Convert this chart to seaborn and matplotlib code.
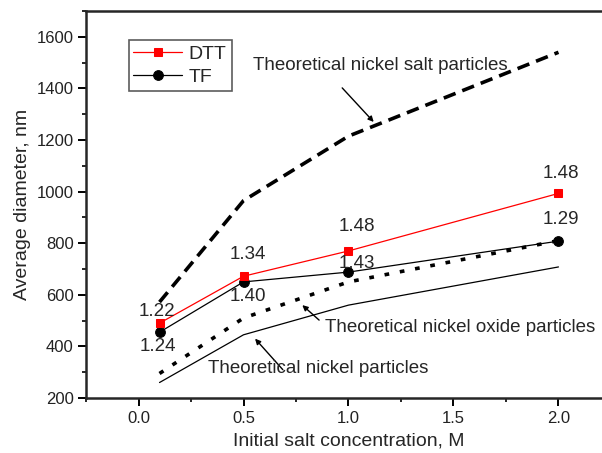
import numpy as np
import pandas as pd
import seaborn as sns
import matplotlib.pyplot as plt
from matplotlib.ticker import MultipleLocator

# data
conc = [0.1, 0.5, 1.0, 2.0]
dtt = [490, 672, 770, 993]
tf = [455, 650, 688, 808]
salt_theory = [572, 965, 1215, 1540]
oxide_theory = [295, 510, 650, 810]
nickel_theory = [260, 445, 560, 708]
dtt_labels = ['1.22', '1.34', '1.48', '1.48']
tf_labels = ['1.24', '1.40', '1.43', '1.29']

sns.set_style("ticks")
plt.rcParams['font.family'] = ['Liberation Sans', 'DejaVu Sans']

fig = plt.figure(figsize=(6.02, 4.53), dpi=100)
ax = fig.add_axes([0.1429, 0.1214, 0.872, 0.8543])

df = pd.DataFrame({'conc': conc, 'DTT': dtt, 'TF': tf, 'salt': salt_theory,
                   'oxide': oxide_theory, 'nickel': nickel_theory})

sns.lineplot(data=df, x='conc', y='salt', ax=ax, color='black', lw=2.6)
ax.lines[-1].set_dashes([3.5, 2])
sns.lineplot(data=df, x='conc', y='oxide', ax=ax, color='black', lw=2.6)
ax.lines[-1].set_dashes([1.3, 3])
sns.lineplot(data=df, x='conc', y='nickel', ax=ax, color='black', lw=0.9)
sns.lineplot(data=df, x='conc', y='TF', ax=ax, color='black', lw=0.9,
             marker='o', markersize=7, markeredgecolor='black', label='TF')
sns.lineplot(data=df, x='conc', y='DTT', ax=ax, color='red', lw=0.9,
             marker='s', markersize=6.2, markeredgecolor='red', label='DTT')

fs = 13.5
dtt_dx = [-0.01, 0.02, 0.04, 0.01]
dtt_dy = [47, 86, 93, 79]
tf_dx = [-0.01, 0.02, 0.04, 0.01]
tf_dy = [-57, -55, 35, 82]
for x, y, lab, dx, dy in zip(conc, dtt, dtt_labels, dtt_dx, dtt_dy):
    ax.text(x + dx, y + dy, lab, ha='center', va='center', fontsize=fs)
for x, y, lab, dx, dy in zip(conc, tf, tf_labels, tf_dx, tf_dy):
    ax.text(x + dx, y + dy, lab, ha='center', va='center', fontsize=fs)

arrow = dict(arrowstyle='-|>', color='black', lw=1, mutation_scale=8, shrinkA=0, shrinkB=0)
ax.annotate('', xy=(1.12, 1270), xytext=(0.97, 1402), arrowprops=arrow)
ax.text(0.545, 1487, 'Theoretical nickel salt particles', fontsize=fs, va='center')
ax.annotate('', xy=(0.78, 560), xytext=(0.86, 502), arrowprops=arrow)
ax.text(0.886, 475, 'Theoretical nickel oxide particles', fontsize=fs, va='center')
ax.annotate('', xy=(0.555, 430), xytext=(0.687, 310), arrowprops=arrow)
ax.text(0.33, 314, 'Theoretical nickel particles', fontsize=fs, va='center')

ax.set_xlim(-0.25, 2.25)
ax.set_ylim(200, 1700)
ax.xaxis.set_minor_locator(MultipleLocator(0.25))
ax.yaxis.set_minor_locator(MultipleLocator(100))
ax.set_yticks(np.arange(200, 1601, 200))
ax.set_xticks([0.0, 0.5, 1.0, 1.5, 2.0])
ax.tick_params(which='major', direction='out', length=5.5, width=1.4, labelsize=12, colors='black')
ax.tick_params(which='major', labelcolor='#222222')
ax.tick_params(which='minor', direction='out', length=3, width=1.4)
for s in ax.spines.values():
    s.set_linewidth(1.8)
ax.spines['right'].set_visible(False)
ax.set_xlabel('Initial salt concentration, M', fontsize=14, labelpad=5)
ax.set_ylabel('Average diameter, nm', fontsize=14, labelpad=4)

h, l = ax.get_legend_handles_labels()
leg = ax.legend(h[::-1], l[::-1], loc='upper left', bbox_to_anchor=(0.081, 0.925),
                fontsize=14, frameon=True, fancybox=False, edgecolor='#333333',
                handlelength=2.5, borderpad=0.25, labelspacing=0.3, handletextpad=0.35,
                borderaxespad=0)
leg.get_frame().set_linewidth(1.2)

fig.savefig('out.png', dpi=100)
